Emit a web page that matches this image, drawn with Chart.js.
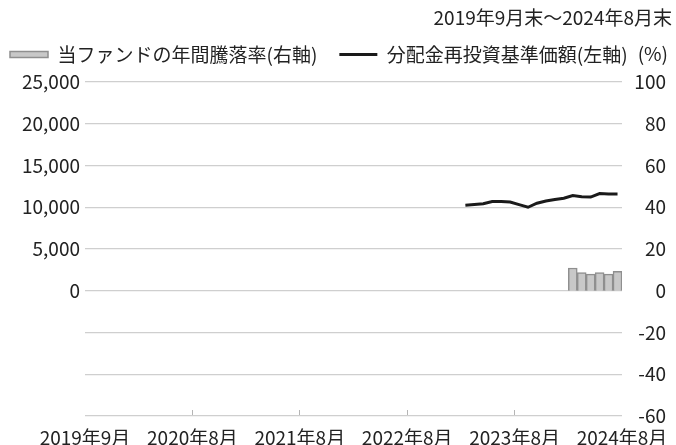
<!DOCTYPE html>
<html lang="ja">
<head>
<meta charset="UTF-8">
<title>基準価額の推移</title>
<style>
  html, body { margin: 0; padding: 0; background: #fff; }
  #wrap { width: 676px; height: 445px; }
</style>
</head>
<body>
<div id="wrap"><canvas id="myChart" width="676" height="445"></canvas></div>

<script src="https://cdn.jsdelivr.net/npm/chart.js@4"></script>
<script>
// period shown on the x axis: month ends 2019年9月 .. 2024年8月
var months = [];
for (var k = 0; k < 60; k++) {
  var mm = 8 + k;
  months.push((2019 + Math.floor(mm / 12)) + '年' + (mm % 12 + 1) + '月');
}
// tick labels sit on the month boundaries, one every 12 months
var boundaries = [];
for (var b = 0; b <= 60; b++) boundaries.push(b);
var xTickLabels = ['2019年9月', '2020年8月', '2021年8月', '2022年8月', '2023年8月', '2024年8月'];

// 分配金再投資基準価額 (left axis), from 2023年3月
var navStart = '2023年3月';
var navValues = [10240, 10320, 10420, 10680, 10700, 10620, 10320, 10000, 10480,
                 10740, 10920, 11080, 11400, 11260, 11220, 11640, 11580, 11580];

// 年間騰落率 (%) (right axis), from 2024年3月
var retStart = '2024年3月';
var retValues = [10.9, 8.7, 8.0, 8.7, 8.0, 9.3];

var periodText = '2019年9月末～2024年8月末';
var unitText = '(%)';

function spread(start, values) {
  var out = months.map(function () { return null; });
  var i0 = months.indexOf(start);
  values.forEach(function (v, i) { out[i0 + i] = v; });
  return out;
}

var textColor = '#222';
var gridColor = '#cfcfcf';
var fontFamily = "'Noto Sans CJK JP', 'Noto Sans', sans-serif";
Chart.defaults.font.family = fontFamily;
Chart.defaults.font.size = 19;
Chart.defaults.color = textColor;

// header texts: period (top right) and unit of the right axis
var headerText = {
  id: 'headerText',
  afterDraw: function (chart) {
    var c = chart.ctx;
    c.save();
    c.fillStyle = textColor;
    c.font = '19px ' + fontFamily;
    c.textAlign = 'right';
    c.textBaseline = 'middle';
    c.fillText(periodText, chart.width - 4, 18);
    c.fillText(unitText, chart.width - 8, 54);
    c.restore();
  }
};

var ctx = document.getElementById('myChart').getContext('2d');
var myChart = new Chart(ctx, {
  type: 'bar',
  data: {
    labels: months,
    datasets: [{
      type: 'bar',
      label: '当ファンドの年間騰落率(右軸)',
      data: spread(retStart, retValues),
      xAxisID: 'x2',
      yAxisID: 'y1',
      backgroundColor: '#c8c8c8',
      borderColor: '#8f8f8f',
      borderWidth: 1.5,
      barPercentage: 1,
      categoryPercentage: 1,
      pointStyle: 'rect'
    }, {
      type: 'line',
      label: '分配金再投資基準価額(左軸)',
      data: spread(navStart, navValues),
      xAxisID: 'x2',
      yAxisID: 'y',
      borderColor: '#1a1a1a',
      backgroundColor: '#1a1a1a',
      borderWidth: 3,
      pointRadius: 0,
      tension: 0,
      pointStyle: 'line'
    }]
  },
  options: {
    responsive: false,
    animation: false,
    layout: { padding: { top: 23, right: 10, left: -12, bottom: 0 } },
    plugins: {
      tooltip: { enabled: false },
      legend: {
        position: 'top',
        align: 'start',
        labels: {
          usePointStyle: true,
          pointStyleWidth: 38,
          boxHeight: 6,
          padding: 22,
          color: textColor,
          font: { size: 19 }
        }
      },
      // empty spacer between legend and plot area
      title: {
        display: true,
        text: '',
        weight: 500,
        font: { size: 1, lineHeight: 1 },
        padding: { top: 7, bottom: 0 }
      }
    },
    scales: {
      x: {
        type: 'category',
        labels: boundaries,
        offset: false,
        border: { display: false },
        grid: {
          offset: false,
          drawOnChartArea: false,
          drawTicks: true,
          tickLength: -6,
          lineWidth: 1,
          color: function (c) {
            var i = c.index;
            return (i % 12 === 0 && i > 0 && i < 60) ? '#b5b5b5' : 'rgba(0,0,0,0)';
          }
        },
        ticks: {
          autoSkip: false,
          maxRotation: 0,
          padding: 3,
          color: textColor,
          font: { size: 19, lineHeight: 2.58 },
          callback: function (v, i) { return i % 12 === 0 ? xTickLabels[i / 12] : ''; }
        },
        afterFit: function (s) { s.height = 29; }
      },
      x2: {
        type: 'category',
        display: false,
        offset: true,
        grid: { offset: true }
      },
      y: {
        position: 'left',
        min: -15000,
        max: 25000,
        border: { display: false },
        grid: { color: gridColor, lineWidth: 1.2, drawTicks: false },
        ticks: {
          stepSize: 5000,
          padding: 5,
          color: textColor,
          callback: function (v) { return v >= 0 ? v.toLocaleString('en-US') : ''; }
        },
        afterFit: function (s) { s.width = 97; }
      },
      y1: {
        position: 'right',
        min: -60,
        max: 100,
        border: { display: false },
        grid: { display: false, drawTicks: false },
        ticks: {
          stepSize: 20,
          crossAlign: 'far',
          color: textColor
        },
        afterFit: function (s) { s.width = 44; }
      }
    }
  },
  plugins: [headerText]
});
</script>
</body>
</html>
